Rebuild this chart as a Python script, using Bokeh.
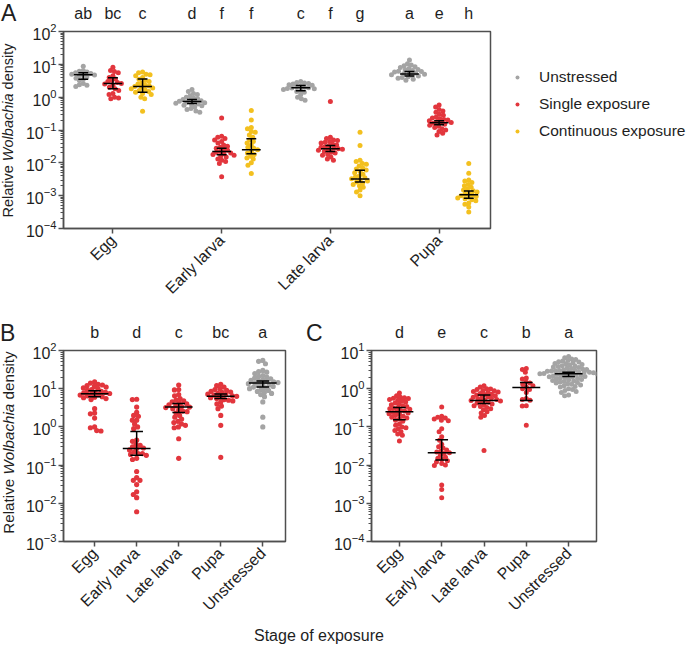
import numpy as np
from math import pi
from bokeh.plotting import figure
from bokeh.models import (Range1d, LinearAxis, FixedTicker, LogTicker, Legend, LegendItem, Div)
from bokeh.layouts import column, row
from bokeh.embed import file_html
from bokeh.resources import INLINE

FONT = "Liberation Sans"
TXT = "#1e1e1e"
AX = "#4f4f4f"
GRAY, RED, YELLOW = "#a4a4a4", "#e2363d", "#f3c01f"

# ---------------- Panel A data ----------------
A_stages = ["Egg", "Early larva", "Late larva", "Pupa"]
A_treatments = ["Unstressed", "Single exposure", "Continuous exposure"]
A_letters = ["ab", "bc", "c", "d", "f", "f", "c", "f", "g", "a", "e", "h"]

A_egg_unstressed = [8.8, 6.5, 6.2, 5.8, 5.5, 5.3, 5.0, 4.8, 4.7, 4.5, 4.2, 3.8, 3.5, 3.2, 2.6, 2.4, 2.3, 2.1]
A_egg_single = [8.2, 6.5, 6.0, 5.5, 4.5, 4.0, 3.6, 3.2, 3.0, 2.8, 2.6, 2.5, 2.3, 2.0, 1.8, 1.6, 1.3, 1.2, 1.0, 0.95, 0.9]
A_egg_continuous = [5.8, 5.5, 5.0, 4.8, 4.5, 4.0, 3.5, 3.2, 3.0, 2.7, 2.5, 2.3, 2.2, 2.1, 2.0, 1.9, 1.8,
                    1.7, 1.6, 1.5, 1.4, 1.3, 1.2, 1.0, 0.9, 0.37]
A_early_unstressed = [1.7, 1.5, 1.3, 1.2, 1.1, 1.0, 0.95, 0.9, 0.85, 0.8, 0.78, 0.75, 0.72, 0.7, 0.68, 0.65,
                      0.62, 0.6, 0.57, 0.55, 0.5, 0.45, 0.42, 0.38, 0.35]
A_early_single = [0.23, 0.065, 0.06, 0.055, 0.05, 0.045, 0.04, 0.035, 0.032, 0.03, 0.028, 0.026, 0.024, 0.022,
                  0.021, 0.02, 0.019, 0.018, 0.017, 0.016, 0.015, 0.013, 0.012, 0.011, 0.0095, 0.0038]
A_early_continuous = [0.39, 0.2, 0.12, 0.11, 0.09, 0.085, 0.07, 0.06, 0.05, 0.045, 0.04, 0.035, 0.03, 0.028,
                      0.025, 0.022, 0.02, 0.018, 0.016, 0.014, 0.013, 0.01, 0.0085, 0.0047]
A_late_unstressed = [3.0, 2.8, 2.7, 2.6, 2.5, 2.4, 2.3, 2.2, 2.1, 2.0, 1.95, 1.9, 1.85, 1.8, 1.7, 1.6, 1.5,
                     1.4, 1.2, 1.0, 0.9, 0.8]
A_late_single = [0.74, 0.06, 0.055, 0.05, 0.048, 0.045, 0.042, 0.04, 0.037, 0.035, 0.033, 0.031, 0.03, 0.028,
                 0.027, 0.026, 0.025, 0.024, 0.022, 0.021, 0.02, 0.018, 0.017, 0.015, 0.013, 0.012]
A_late_continuous = [0.085, 0.034, 0.012, 0.011, 0.0095, 0.009, 0.008, 0.007, 0.0065, 0.006, 0.0055, 0.005,
                     0.0045, 0.004, 0.0037, 0.0035, 0.0033, 0.003, 0.0028, 0.0026, 0.0024, 0.0022, 0.002,
                     0.0018, 0.0015, 0.0013, 0.001]
A_pupa_unstressed = [13.5, 10.5, 9.5, 9.0, 8.5, 8.0, 7.5, 7.0, 6.8, 6.5, 6.2, 6.0, 5.8, 5.6, 5.4, 5.2, 5.0,
                     4.8, 4.6, 4.4, 4.2, 4.0, 3.8, 3.5, 3.3]
A_pupa_single = [0.58, 0.5, 0.42, 0.38, 0.35, 0.3, 0.28, 0.25, 0.23, 0.22, 0.21, 0.2, 0.19, 0.18, 0.17, 0.165,
                 0.16, 0.15, 0.14, 0.13, 0.12, 0.11, 0.1, 0.09, 0.08, 0.07]
A_pupa_continuous = [0.0095, 0.0048, 0.003, 0.0028, 0.0025, 0.0022, 0.002, 0.0018, 0.0016, 0.0015, 0.0014,
                     0.0013, 0.0012, 0.0011, 0.00105, 0.001, 0.00095, 0.0009, 0.00085, 0.0008, 0.00075,
                     0.0007, 0.0006, 0.00055, 0.00045, 0.00032]

A_groups = [A_egg_unstressed, A_egg_single, A_egg_continuous,
            A_early_unstressed, A_early_single, A_early_continuous,
            A_late_unstressed, A_late_single, A_late_continuous,
            A_pupa_unstressed, A_pupa_single, A_pupa_continuous]
A_median = [4.8, 2.6, 2.1, 0.74, 0.022, 0.025, 1.93, 0.027, 0.0032, 5.1, 0.166, 0.00107]
A_q1 = [3.5, 1.8, 1.4, 0.64, 0.0176, 0.019, 1.58, 0.022, 0.0026, 4.4, 0.144, 0.00083]
A_q3 = [5.5, 3.9, 3.6, 0.85, 0.028, 0.054, 2.27, 0.034, 0.0059, 6.0, 0.19, 0.00138]

# ---------------- Panel B data (single exposure by stage) ----------------
BC_stages = ["Egg", "Early larva", "Late larva", "Pupa", "Unstressed"]
B_letters = ["b", "d", "c", "bc", "a"]
B_egg = [15, 14, 13, 12.5, 12, 11.5, 11, 10.5, 10, 9.5, 9, 8.5, 8.2, 8, 7.8, 7.5, 7.2, 7, 6.8, 6.5, 6.2, 6,
         5.8, 5.5, 5.2, 3.0, 2.3, 2.2, 1.7, 1.0, 0.95, 0.8, 0.78]
B_early = [5.3, 5.2, 3.3, 2.4, 2.0, 1.9, 1.5, 1.5, 1.2, 1.0, 0.9, 0.45, 0.42, 0.35, 0.33, 0.3, 0.28, 0.27,
           0.25, 0.22, 0.2, 0.2, 0.19, 0.18, 0.15, 0.14, 0.068, 0.047, 0.04, 0.04, 0.031, 0.02, 0.017,
           0.014, 0.006]
B_late = [12.5, 9.5, 9.3, 7, 6.5, 5.5, 5, 4.8, 4.5, 4.2, 4, 3.8, 3.6, 3.4, 3.3, 3.2, 3, 2.8, 2.6, 2.5, 2.3,
          2.0, 1.8, 1.6, 1.4, 1.3, 1.2, 1.1, 1.0, 0.95, 0.49, 0.15]
B_pupa = [13, 12, 11, 10, 9.5, 9, 8.5, 8.2, 8, 7.5, 7.2, 7, 6.8, 6.5, 6.3, 6, 5.8, 5.5, 5.2, 5, 4.8, 4.5, 4,
          3.5, 3, 2.0, 1.1, 0.16]
B_unstressed = [55, 52, 45, 30, 28, 27, 25, 22, 21, 20, 19, 18, 17, 16.5, 16, 15.5, 15, 14.5, 14, 13.5, 13,
                12.5, 12, 11.5, 11, 10.5, 10, 9.5, 9, 8.5, 8, 7.5, 7, 6.2, 4.5, 1.8, 1.0]
B_groups = [B_egg, B_early, B_late, B_pupa, B_unstressed]
B_median = [7.4, 0.27, 3.3, 6.3, 14]
B_q1 = [6.2, 0.18, 2.4, 5.5, 11]
B_q3 = [8.9, 0.76, 4.1, 7.3, 16]

# ---------------- Panel C data ----------------
C_letters = ["d", "e", "c", "b", "a"]
C_egg = [0.77, 0.65, 0.6, 0.58, 0.56, 0.55, 0.52, 0.5, 0.48, 0.45, 0.42, 0.4, 0.38, 0.36, 0.34, 0.32, 0.31,
         0.3, 0.29, 0.27, 0.26, 0.25, 0.24, 0.23, 0.22, 0.21, 0.2, 0.19, 0.18, 0.17, 0.16, 0.15, 0.14, 0.12,
         0.11, 0.1, 0.095, 0.09, 0.08, 0.075, 0.065, 0.06, 0.043]
C_early = [0.33, 0.19, 0.18, 0.17, 0.16, 0.15, 0.145, 0.09, 0.075, 0.055, 0.045, 0.035, 0.03, 0.028, 0.025,
           0.023, 0.022, 0.021, 0.02, 0.018, 0.016, 0.015, 0.014, 0.013, 0.012, 0.011, 0.01, 0.0098,
           0.003, 0.0023, 0.0014]
C_late = [1.2, 1.1, 1.0, 0.98, 0.95, 0.9, 0.88, 0.85, 0.82, 0.8, 0.75, 0.72, 0.7, 0.68, 0.65, 0.62, 0.6,
          0.58, 0.56, 0.54, 0.52, 0.5, 0.49, 0.48, 0.46, 0.44, 0.42, 0.4, 0.38, 0.36, 0.34, 0.32, 0.3, 0.28,
          0.25, 0.23, 0.2, 0.18, 0.024]
C_pupa = [3.4, 3.2, 2.7, 1.9, 1.8, 1.5, 1.4, 1.3, 1.2, 1.1, 1.0, 0.95, 0.8, 0.55, 0.52, 0.5, 0.36, 0.35, 0.11]
C_unstressed = [7.0, 6.5, 6.0, 5.8, 5.5, 5.3, 5.1, 5.0, 4.8, 4.6, 4.5, 4.3, 4.2, 4.0, 3.9, 3.8, 3.7, 3.6,
                3.5, 3.4, 3.3, 3.2, 3.1, 3.05, 3.0, 2.95, 2.9, 2.85, 2.8, 2.75, 2.7, 2.65, 2.6, 2.55, 2.5,
                2.48, 2.46, 2.44, 2.4, 2.35, 2.3, 2.25, 2.2, 2.15, 2.1, 2.05, 2.0, 1.95, 1.9, 1.85, 1.8,
                1.75, 1.7, 1.65, 1.6, 1.55, 1.5, 1.45, 1.4, 1.35, 1.3, 1.25, 1.2, 1.15, 1.1, 1.0, 0.95,
                0.9, 0.85, 0.8, 0.68, 0.65]
C_groups = [C_egg, C_early, C_late, C_pupa, C_unstressed]
C_median = [0.25, 0.021, 0.49, 1.07, 2.46]
C_q1 = [0.155, 0.0135, 0.41, 0.49, 2.1]
C_q3 = [0.32, 0.046, 0.68, 1.45, 2.7]

Y_TITLE_HTML = "Relative <i>Wolbachia</i> density"
X_AXIS_TITLE = "Stage of exposure"
PANEL_LETTERS = ["A", "B", "C"]


# ---------------- helpers ----------------
def swarm(vals, d, px_dec, px_unit):
    """Beeswarm x-offsets (in x data units) so dots d px apart do not overlap."""
    y = np.log10(np.asarray(vals, float)) * px_dec
    xs = np.zeros(len(y))
    placed = []
    for i in np.argsort(-y, kind="stable"):
        cands = [0.0]
        for xj, yj in placed:
            dy = y[i] - yj
            if abs(dy) < d:
                dx = np.sqrt(d * d - dy * dy)
                cands += [xj + dx, xj - dx]
        cands.sort(key=lambda c: (abs(c), c))
        chosen = None
        for c in cands:
            if all((c - xj) ** 2 + (y[i] - yj) ** 2 >= d * d - 1e-6 for xj, yj in placed):
                chosen = c
                break
        if chosen is None:
            chosen = max([abs(xj) for xj, _ in placed] + [0]) + d
        xs[i] = chosen
        placed.append((chosen, y[i]))
    return xs / px_unit


def make_fig(width, height, xr, yr, borders):
    l, r, t, b = borders
    p = figure(width=width, height=height, x_range=Range1d(*xr), y_range=Range1d(*yr),
               y_axis_type="log", output_backend="svg", toolbar_location=None,
               min_border_left=l, min_border_right=r, min_border_top=t, min_border_bottom=b)
    p.xgrid.visible = False
    p.ygrid.visible = False
    p.outline_line_color = AX
    p.outline_line_width = 1.5
    p.background_fill_color = "white"
    p.border_fill_color = "white"
    return p


def style_axes(p, decades, tick_pos, tick_names, letter_pos, letters):
    ya = p.yaxis[0]
    ya.ticker = LogTicker(desired_num_ticks=decades + 1, num_minor_ticks=10)
    ya.axis_line_color = AX
    ya.axis_line_width = 1.5
    ya.major_tick_line_color = AX
    ya.major_tick_line_width = 1.5
    ya.minor_tick_line_color = AX
    ya.major_tick_out = 5
    ya.major_tick_in = 0
    ya.minor_tick_out = 3
    ya.minor_tick_in = 0
    ya.major_label_standoff = 2
    ya.major_label_text_font = FONT
    ya.major_label_text_font_size = "16px"
    ya.major_label_text_color = TXT

    xa = p.xaxis[0]
    xa.ticker = FixedTicker(ticks=tick_pos)
    xa.major_label_overrides = {k: v for k, v in zip(tick_pos, tick_names)}
    xa.major_label_orientation = pi / 4
    xa.axis_line_color = AX
    xa.axis_line_width = 1.5
    xa.major_tick_line_color = AX
    xa.major_tick_line_width = 1.5
    xa.major_tick_out = 5
    xa.major_tick_in = 0
    xa.minor_tick_line_color = None
    xa.major_label_standoff = 4
    xa.major_label_text_font = FONT
    xa.major_label_text_font_size = "16px"
    xa.major_label_text_color = TXT

    top = LinearAxis(ticker=FixedTicker(ticks=letter_pos),
                     major_label_overrides={k: v for k, v in zip(letter_pos, letters)},
                     axis_line_color=None, major_tick_line_color=None,
                     minor_tick_line_color=None, major_label_standoff=4,
                     major_label_text_font=FONT, major_label_text_font_size="16px",
                     major_label_text_color=TXT)
    p.add_layout(top, "above")


def side_div(width, height, letter, letter_left, title_len=None, title_bottom=None, title_fs=14.5):
    parts = [f'<div style="position:absolute;left:{letter_left}px;top:0px;font-size:23px;'
             f'line-height:26px;">{letter}</div>']
    if title_len is not None:
        parts.append(
            f'<div style="position:absolute;left:0px;top:{title_bottom}px;width:{title_len}px;'
            f'height:17px;line-height:17px;font-size:{title_fs}px;text-align:center;white-space:nowrap;'
            f'transform-origin:0 0;transform:rotate(-90deg);">{Y_TITLE_HTML}</div>')
    html = (f'<div style="position:relative;width:{width}px;height:{height}px;font-family:\'{FONT}\';'
            f'color:{TXT};">' + "".join(parts) + '</div>')
    return Div(text=html, width=width, height=height, margin=0)


def draw_group(p, x0, vals, color, med, q1, q3, d, size, px_dec, px_unit, med_hw, cap_hw):
    offs = swarm(vals, d, px_dec, px_unit)
    p.scatter(x0 + offs, vals, size=size, marker="circle", fill_color=color, line_color=None)
    p.segment(x0=[x0], y0=[q1], x1=[x0], y1=[q3], line_color="black", line_width=1.5)
    p.segment(x0=[x0 - med_hw], y0=[med], x1=[x0 + med_hw], y1=[med], line_color="black", line_width=1.5)
    p.segment(x0=[x0 - cap_hw, x0 - cap_hw], y0=[q1, q3], x1=[x0 + cap_hw, x0 + cap_hw], y1=[q1, q3],
              line_color="black", line_width=1.5)


# ---------------- Row 1: panel A ----------------
ROW1_H = 320
A_W, A_B = 476, (36, 8, 31, 92)
A_xr = (-2.0, 41.2)
A_frame_w = A_W - A_B[0] - A_B[1]
A_frame_h = ROW1_H - A_B[2] - A_B[3]
A_px_unit = A_frame_w / (A_xr[1] - A_xr[0])
A_px_dec = A_frame_h / 6.0

pA = make_fig(A_W, ROW1_H, A_xr, (1e-4, 1e2), A_B)
A_colors = [GRAY, RED, YELLOW]
A_pos = []
for gi, vals in enumerate(A_groups):
    si, ti = divmod(gi, 3)
    x0 = si * 11 + ti * 3
    A_pos.append(x0)
    draw_group(pA, x0, vals, A_colors[ti], A_median[gi], A_q1[gi], A_q3[gi],
               4.1, 5.0, A_px_dec, A_px_unit, 0.95, 0.5)
style_axes(pA, 6, [si * 11 + 3 for si in range(4)], A_stages, A_pos, A_letters)

labA = side_div(22, ROW1_H, PANEL_LETTERS[0], 1, title_len=A_frame_h,
                title_bottom=A_B[2] + A_frame_h + 1, title_fs=14.5)

# legend lives in its own plot; its frame is row-aligned with panel A's frame.
# Proxy renderers hold one point placed outside the visible range (legend swatches only).
legA = figure(width=192, height=ROW1_H, x_range=Range1d(0, 1), y_range=Range1d(0, 1),
              output_backend="svg", toolbar_location=None, x_axis_location=None,
              y_axis_location=None, min_border_left=0, min_border_right=0,
              min_border_top=A_B[2], min_border_bottom=A_B[3])
legA.outline_line_color = None
legA.xgrid.visible = False
legA.ygrid.visible = False
leg_rs = [legA.scatter(x=[-5], y=[-5], size=4, marker="circle", fill_color=c, line_color=None)
          for c in A_colors]
legend = Legend(items=[LegendItem(label=A_treatments[i], renderers=[leg_rs[i]]) for i in range(3)],
                location=(14, 87), padding=0, margin=0, spacing=7, glyph_width=10, glyph_height=10,
                label_height=20, label_standoff=17, label_text_font=FONT, label_text_font_size="15.5px",
                label_text_color=TXT, border_line_color=None, background_fill_alpha=0)
legA.add_layout(legend, "center")

# ---------------- Row 2: panels B and C ----------------
BC_H = 302
BC_top, BC_bot = 29, 74
BC_frame_h = BC_H - BC_top - BC_bot
BC_px_dec = BC_frame_h / 5.0
B_W, B_B = 278, (36, 15, BC_top, BC_bot)
C_W, C_B = 360, (39, 94, BC_top, BC_bot)
B_xr = (-0.74, 4.54)
C_xr = (-0.66, 4.66)

pB = make_fig(B_W, BC_H, B_xr, (1e-3, 1e2), B_B)
B_px_unit = (B_W - B_B[0] - B_B[1]) / (B_xr[1] - B_xr[0])
for i, vals in enumerate(B_groups):
    col = GRAY if BC_stages[i] == "Unstressed" else RED
    draw_group(pB, i, vals, col, B_median[i], B_q1[i], B_q3[i], 4.4, 5.2, BC_px_dec, B_px_unit, 0.33, 0.15)
style_axes(pB, 5, list(range(5)), BC_stages, list(range(5)), B_letters)

labB = side_div(22, BC_H, PANEL_LETTERS[1], 0, title_len=BC_frame_h,
                title_bottom=BC_top + BC_frame_h - 6, title_fs=15.2)
labC = side_div(30, BC_H, PANEL_LETTERS[2], 6)

pC = make_fig(C_W, BC_H, C_xr, (1e-4, 1e1), C_B)
C_px_unit = (C_W - C_B[0] - C_B[1]) / (C_xr[1] - C_xr[0])
for i, vals in enumerate(C_groups):
    col = GRAY if BC_stages[i] == "Unstressed" else RED
    draw_group(pC, i, vals, col, C_median[i], C_q1[i], C_q3[i], 4.1, 5.0, BC_px_dec, C_px_unit, 0.33, 0.15)
style_axes(pC, 5, list(range(5)), BC_stages, list(range(5)), C_letters)

# ---------------- shared x title ----------------
xtitle = Div(text=X_AXIS_TITLE, width=690, height=26, margin=0,
             styles={"font-family": FONT, "font-size": "16px", "color": TXT,
                     "line-height": "28px", "padding-left": "254px", "box-sizing": "border-box",
                     "white-space": "nowrap"})

layout = column(row(labA, pA, legA), row(labB, pB, labC, pC), xtitle)
open("out.html", "w").write(file_html(layout, INLINE))
